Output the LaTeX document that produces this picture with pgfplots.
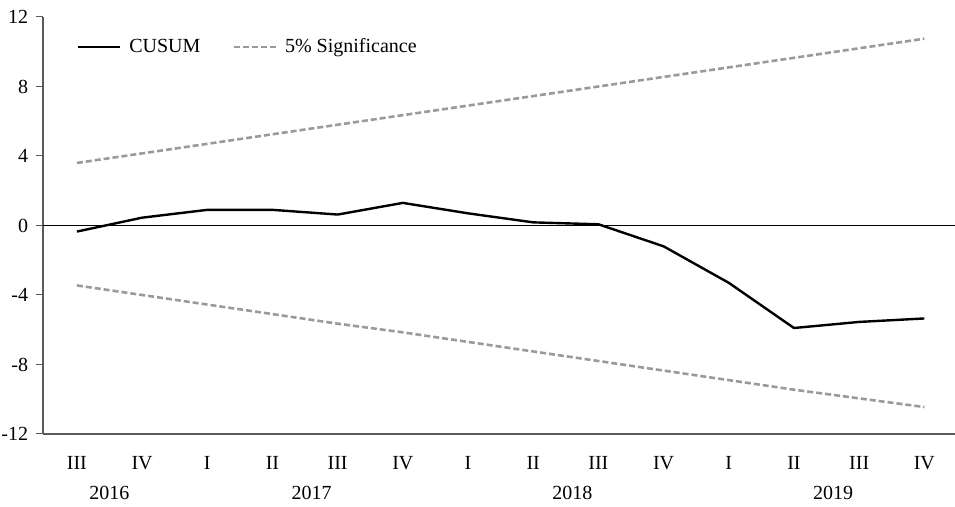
\documentclass[border=0pt]{standalone}
\usepackage{fontspec}
\setmainfont{Liberation Serif}
\usepackage{pgfplots}
\pgfplotsset{compat=1.18}
\definecolor{axisgray}{HTML}{5A5A5A}
\definecolor{siggray}{HTML}{9A9A9A}
\begin{document}
\fontsize{20}{24}\selectfont
\begin{tikzpicture}
\begin{axis}[
  name=ax,
  scale only axis,
  width=912pt, height=417pt,
  xmin=-0.52, xmax=13.47,
  ymin=-12, ymax=12,
  ytick={-12,-8,-4,0,4,8,12},
  xtick=data,
  xticklabels={III,IV,I,II,III,IV,I,II,III,IV,I,II,III,IV},
  axis x line=bottom, axis y line=left,
  axis line style={axisgray, line width=1.2pt, -},
  x axis line style={line width=1.5pt},
  tick style={axisgray, line width=1pt},
  major tick length=7pt,
  x tick style={draw=none},
  ytick align=outside,
  tick label style={font=\fontsize{20}{24}\selectfont},
  /pgf/number format/assume math mode=true,
  xticklabel style={yshift=-12pt},
  yticklabel style={xshift=-1pt},
  clip=false,
  legend columns=2,
  legend style={draw=none, fill=none, at={(0.037,0.928)}, anchor=west,
    font=\fontsize{20}{24}\selectfont, inner sep=0pt,
    /tikz/every odd column/.append style={column sep=6pt},
    /tikz/every even column/.append style={column sep=30pt}},
  legend image code/.code={\draw[#1] (0pt,0pt) -- (42pt,0pt);},
]
\draw[black, line width=0.9pt] (axis cs:-0.52,0) -- (axis cs:13.47,0);
\addplot[black, line width=2.4pt, line join=round] coordinates {
(0,-0.35) (1,0.45) (2,0.9) (3,0.9) (4,0.63) (5,1.3) (6,0.7) (7,0.18)
(8,0.07) (9,-1.2) (10,-3.3) (11,-5.9) (12,-5.55) (13,-5.35)};
\addlegendentry{CUSUM}
\addplot[siggray, line width=2.6pt, dash pattern=on 6pt off 3pt] coordinates {
(0,3.6) (1,4.15) (2,4.7) (3,5.25) (4,5.8) (5,6.35) (6,6.9) (7,7.45)
(8,8.0) (9,8.55) (10,9.1) (11,9.65) (12,10.2) (13,10.75)};
\addlegendentry{5\% Significance}
\addplot[siggray, line width=2.6pt, dash pattern=on 6pt off 3pt, forget plot] coordinates {
(0,-3.45) (1,-4.0) (2,-4.55) (3,-5.1) (4,-5.65) (5,-6.15) (6,-6.7) (7,-7.25)
(8,-7.8) (9,-8.35) (10,-8.9) (11,-9.45) (12,-9.95) (13,-10.45)};
\node[font=\fontsize{20}{24}\selectfont] at ([yshift=-59pt]axis cs:0.5,-12) {2016};
\node[font=\fontsize{20}{24}\selectfont] at ([yshift=-59pt]axis cs:3.6,-12) {2017};
\node[font=\fontsize{20}{24}\selectfont] at ([yshift=-59pt]axis cs:7.6,-12) {2018};
\node[font=\fontsize{20}{24}\selectfont] at ([yshift=-59pt]axis cs:11.6,-12) {2019};
\end{axis}
\pgfresetboundingbox
\path ([xshift=-43pt,yshift=-73pt]ax.south west) rectangle ([yshift=17pt]ax.north east);
\end{tikzpicture}
\end{document}
